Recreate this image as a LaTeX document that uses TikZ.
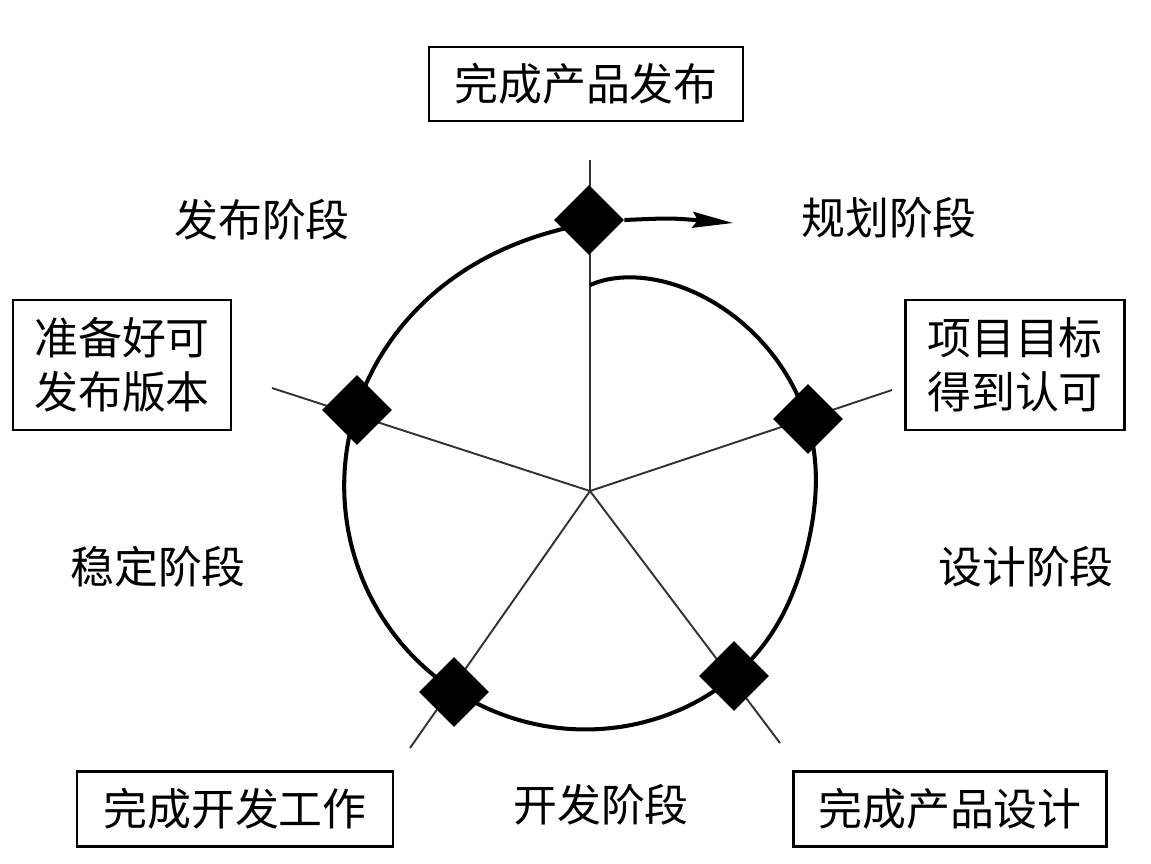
\documentclass[tikz,border=0pt]{standalone}
\usepackage{fontspec}
\setmainfont{Noto Sans CJK SC}
\usetikzlibrary{shapes.geometric,arrows.meta}
\begin{document}
\begin{tikzpicture}[x=0.02cm,y=-0.02cm,
  every node/.style={font=\fontsize{25pt}{31pt}\selectfont, inner sep=0pt},
  box/.style={draw, line width=1.2pt, align=center},
  lbl/.style={},
  markdia/.style={diamond, fill=black, minimum width=1.4cm, minimum height=1.4cm, aspect=1},
  ring/.style={line width=2.3pt},
  spoke/.style={line width=1.1pt, black!80},
  declare function={rr(\t)=224+0.08*\t-18*exp(-\t/12)+15*exp((\t-360)/20)-8*exp(-((\t-105)/25)^2);}]
\useasboundingbox (0,0) rectangle (1151,863);
% spokes
\coordinate (c) at (590,491);
\coordinate (o1) at (590,160);
\coordinate (o2) at (892,390);
\coordinate (o3) at (780,743);
\coordinate (o4) at (410,748);
\coordinate (o5) at (272,388);
\draw[spoke] (c) -- (o1);
\draw[spoke] (c) -- (o2);
\draw[spoke] (c) -- (o3);
\draw[spoke] (c) -- (o4);
\draw[spoke] (c) -- (o5);
% spiral ring
\draw[ring] plot[domain=0:360, samples=150, smooth, variable=\t]
  ({590+rr(\t)*sin(\t)}, {491-rr(\t)*cos(\t)});
% milestones
\node[markdia] (d1) at (589,220) {};
\node[markdia] (d2) at (808,419) {};
\node[markdia] (d3) at (734,676) {};
\node[markdia] (d4) at (454,692) {};
\node[markdia] (d5) at (357,410) {};
\coordinate (ae) at (733,223);
\draw[ring, -{Stealth[length=23pt,width=9pt,inset=3pt]}] (d1.east) .. controls (670,218) .. (ae);
% boxes
\node[box, minimum width=6.28cm, minimum height=1.48cm] (b1) at (586,84) {完成产品发布};
\node[box, minimum width=4.36cm, minimum height=2.6cm] (b5) at (122,365) {准备好可\\发布版本};
\node[box, minimum width=4.38cm, minimum height=2.6cm] (b2) at (1015,365) {项目目标\\得到认可};
\node[box, minimum width=6.32cm, minimum height=1.5cm] (b4) at (235,809) {完成开发工作};
\node[box, minimum width=6.26cm, minimum height=1.5cm] (b3) at (950,809) {完成产品设计};
% phase labels
\node[lbl] (l1) at (889,218) {规划阶段};
\node[lbl] (l2) at (1026,567) {设计阶段};
\node[lbl] (l3) at (601,805) {开发阶段};
\node[lbl] (l4) at (158,567) {稳定阶段};
\node[lbl] (l5) at (262,220) {发布阶段};
\end{tikzpicture}
\end{document}
